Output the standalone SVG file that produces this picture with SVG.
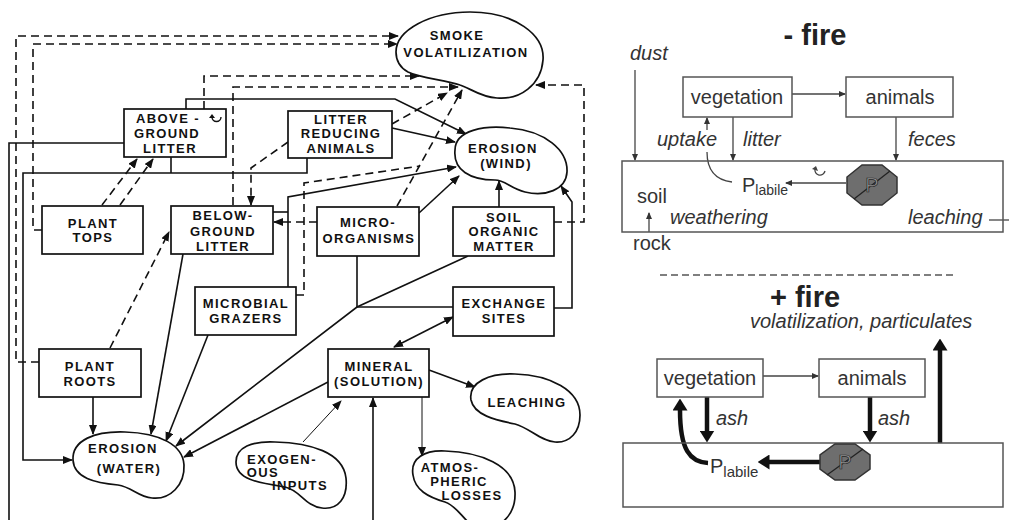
<svg xmlns="http://www.w3.org/2000/svg" width="1009" height="520" viewBox="0 0 1009 520">
<style>
.bx{fill:#fff;stroke:#111;stroke-width:1.7}
.bl{fill:#fff;stroke:#111;stroke-width:1.7}
.L{font-family:"Liberation Sans",Arial,sans-serif;font-weight:bold;font-size:13px;letter-spacing:1.4px;text-anchor:middle;fill:#111}
.sl{fill:none;stroke:#111;stroke-width:1.6}
.th{fill:none;stroke:#111;stroke-width:1}
.dl{fill:none;stroke:#111;stroke-width:1.6;stroke-dasharray:8 5}
.rb{fill:none;stroke:#555;stroke-width:1.5}
.R{font-family:"Liberation Sans",Arial,sans-serif;font-size:20px;fill:#333}
.I{font-style:italic}
.T{font-family:"Liberation Sans",Arial,sans-serif;font-size:29px;font-weight:bold;fill:#222;text-anchor:middle}
.rl{fill:none;stroke:#444;stroke-width:1.3}
.tk{fill:none;stroke:#111;stroke-width:4.5}
.oc{fill:#6e6e6e;stroke:#333;stroke-width:1.5}
.op{font-family:"Liberation Sans",Arial,sans-serif;font-size:20px;fill:#9a9a9a;stroke:#222;stroke-width:0.7;text-anchor:middle}
</style>
<defs>
<marker id="a" viewBox="0 0 10 8" refX="9" refY="4" markerWidth="10" markerHeight="8" markerUnits="userSpaceOnUse" orient="auto-start-reverse"><path d="M0,0 L10,4 L0,8 z" fill="#111"/></marker>
<marker id="s" viewBox="0 0 7 6" refX="6" refY="3" markerWidth="7" markerHeight="6" markerUnits="userSpaceOnUse" orient="auto"><path d="M0,0 L7,3 L0,6 z" fill="#333"/></marker>
<marker id="t" viewBox="0 0 12 15" refX="0.5" refY="7.5" markerWidth="12" markerHeight="15" markerUnits="userSpaceOnUse" orient="auto"><path d="M0,0 L12,7.5 L0,15 z" fill="#111"/></marker>
</defs>
<rect width="1009" height="520" fill="#fff"/>

<g id="connectors">
<path class="dl" d="M39 362 L16 362 L16 36 L398 36" marker-end="url(#a)"/>
<path class="dl" d="M42 230 L33 230 L33 44 L397 44" marker-end="url(#a)"/>
<path class="dl" d="M204 109 L204 76 L419 76" marker-end="url(#a)"/>
<path class="dl" d="M233 205 L233 87 L458 87" marker-end="url(#a)"/>
<path class="dl" d="M392 124 L447 93" marker-end="url(#a)"/>
<path class="dl" d="M397 206 L462 90" marker-end="url(#a)"/>
<path class="dl" d="M554 222 L584 222 L584 85 L536 85" marker-end="url(#a)"/>
<path class="dl" d="M317 222 L274 222" marker-end="url(#a)"/>
<path class="dl" d="M296 295 L304 295 L304 183 L420 166"/>
<path class="dl" d="M288 142 L251 168 L251 205" marker-end="url(#a)"/>
<path class="dl" d="M102 205 L137 159" marker-end="url(#a)"/>
<path class="dl" d="M120 205 L153 159" marker-end="url(#a)"/>
<path class="dl" d="M110 348 L169 232" marker-end="url(#a)"/>
<path class="sl" d="M124 143 L9 143 L9 520"/>
<path class="sl" d="M307 158 L307 173 L23 173 L23 460 L72 460" marker-end="url(#a)"/>
<path class="sl" d="M171 157 L171 173"/>
<path class="sl" d="M186 109 L186 99 L395 99 L466 134" marker-end="url(#a)"/>
<path class="sl" d="M392 128 L455 142" marker-end="url(#a)"/>
<path class="sl" d="M273 212 L288 212"/>
<path class="sl" d="M288 287 L288 197 L456 167" marker-end="url(#a)"/>
<path class="sl" d="M419 213 L459 176" marker-end="url(#a)"/>
<path class="sl" d="M499 207 L499 181" marker-end="url(#a)"/>
<path class="sl" d="M554 308 L572 308 L572 202 L561 186" marker-end="url(#a)"/>
<path class="sl" d="M357 256 L357 307 L453 307"/>
<path class="sl" d="M468 256 L357 307 L176 446" marker-end="url(#a)"/>
<path class="sl" d="M328 382 L184 457" marker-end="url(#a)"/>
<path class="sl" d="M183 254 L151 434" marker-end="url(#a)"/>
<path class="sl" d="M208 335 L166 441" marker-end="url(#a)"/>
<path class="sl" d="M93 397 L93 434" marker-end="url(#a)"/>
<path class="sl" d="M453 317 L394 347" marker-start="url(#a)" marker-end="url(#a)"/>
<path class="sl" d="M429 370 L475 387" marker-end="url(#a)"/>
<path class="th" d="M422 397 L422 456" marker-end="url(#a)"/>
<path class="th" d="M303 442 L341 401" marker-end="url(#a)"/>
<path class="sl" d="M373 520 L373 398" marker-end="url(#a)"/>

<path class="rl" d="M635 70 L635 160" marker-end="url(#s)"/>
<path class="rl" d="M792 94 L845 94" marker-end="url(#s)"/>
<path class="rl" d="M733 117 L733 160" marker-end="url(#s)"/>
<path class="rl" d="M896 117 L896 160" marker-end="url(#s)"/>
<path class="rl" d="M732 182 C715 180 707 170 707 152"/>
<path class="rl" d="M707 130 L707 118" marker-end="url(#s)"/>
<path class="rl" d="M846 183 L786 183" marker-end="url(#s)"/>
<path class="rl" d="M649 232 L649 213" marker-end="url(#s)"/>
<path class="rl" d="M989 220 L1009 220"/>
<path d="M660 275 L955 275" fill="none" stroke="#555" stroke-width="1.5" stroke-dasharray="7 4"/>
<path class="rl" d="M763 376 L818 376" marker-end="url(#s)"/>
<path class="tk" d="M940 443 L940 350" marker-end="url(#t)"/>
<path class="tk" d="M707 397 L707 431" marker-end="url(#t)"/>
<path class="tk" d="M870 397 L870 431" marker-end="url(#t)"/>
<path class="tk" d="M708 463 C690 462 680 450 680 410" marker-end="url(#t)"/>
<path class="tk" d="M820 462 L769 462" marker-end="url(#t)"/>
</g>

<g id="smoke-volatilization">
<path class="bl" d="M396 52 C396 30 430 12 470 12 C515 12 545 35 543 60 C541 85 520 100 497 98 C480 97 470 88 460 85 C445 80 420 78 408 72 C399 67 396 60 396 52 Z"/>
<text class="L" x="457" y="40">SMOKE</text>
<text class="L" x="466" y="57">VOLATILIZATION</text>
</g>
<g id="above-ground-litter">
<rect class="bx" x="124" y="109" width="102" height="48"/>
<text class="L" x="168" y="123">ABOVE -</text>
<path d="M212 117 A4.5 4.5 0 1 0 221 117" fill="none" stroke="#111" stroke-width="1.4"/>
<path d="M209 118 L212 114 L215 118 Z" fill="#111"/>
<text class="L" x="167" y="138">GROUND</text>
<text class="L" x="170" y="153">LITTER</text>
</g>
<g id="litter-reducing-animals">
<rect class="bx" x="288" y="111" width="104" height="47"/>
<text class="L" x="341" y="124">LITTER</text>
<text class="L" x="341" y="138">REDUCING</text>
<text class="L" x="341" y="153">ANIMALS</text>
</g>
<g id="erosion-wind">
<path class="bl" d="M455 150 C455 130 485 125 510 128 C545 131 568 150 567 172 C566 190 545 197 525 192 C510 188 505 180 495 180 C470 180 453 170 455 150 Z"/>
<text class="L" x="503" y="153">EROSION</text>
<text class="L" x="506" y="168">(WIND)</text>
</g>
<g id="plant-tops">
<rect class="bx" x="42" y="206" width="101" height="48"/>
<text class="L" x="93" y="228">PLANT</text>
<text class="L" x="93" y="242">TOPS</text>
</g>
<g id="below-ground-litter">
<rect class="bx" x="171" y="206" width="102" height="48"/>
<text class="L" x="223" y="220">BELOW-</text>
<text class="L" x="223" y="236">GROUND</text>
<text class="L" x="223" y="251">LITTER</text>
</g>
<g id="micro-organisms">
<rect class="bx" x="317" y="207" width="102" height="49"/>
<text class="L" x="368" y="227">MICRO-</text>
<text class="L" x="369" y="243">ORGANISMS</text>
</g>
<g id="soil-organic-matter">
<rect class="bx" x="453" y="207" width="101" height="49"/>
<text class="L" x="504" y="222">SOIL</text>
<text class="L" x="504" y="236">ORGANIC</text>
<text class="L" x="504" y="251">MATTER</text>
</g>
<g id="microbial-grazers">
<rect class="bx" x="195" y="287" width="101" height="48"/>
<text class="L" x="246" y="308">MICROBIAL</text>
<text class="L" x="246" y="323">GRAZERS</text>
</g>
<g id="exchange-sites">
<rect class="bx" x="453" y="287" width="101" height="49"/>
<text class="L" x="504" y="308">EXCHANGE</text>
<text class="L" x="504" y="323">SITES</text>
</g>
<g id="plant-roots">
<rect class="bx" x="39" y="349" width="102" height="48"/>
<text class="L" x="90" y="371">PLANT</text>
<text class="L" x="90" y="386">ROOTS</text>
</g>
<g id="mineral-solution">
<rect class="bx" x="328" y="349" width="101" height="48"/>
<text class="L" x="379" y="371">MINERAL</text>
<text class="L" x="379" y="386">(SOLUTION)</text>
</g>
<g id="erosion-water">
<path class="bl" d="M73 460 C72 440 95 431 125 432 C160 433 183 445 184 465 C185 485 170 500 152 498 C138 497 132 487 118 485 C95 483 74 478 73 460 Z"/>
<text class="L" x="123" y="453">EROSION</text>
<text class="L" x="129" y="473">(WATER)</text>
</g>
<g id="exogenous-inputs">
<path class="bl" d="M236 462 C236 447 252 441 275 442 C310 443 343 452 346 478 C348 498 338 510 322 508 C305 506 300 490 285 487 C260 483 236 480 236 462 Z"/>
<text class="L" x="282" y="464">EXOGEN-</text>
<text class="L" x="263" y="477">OUS</text>
<text class="L" x="300" y="490">INPUTS</text>
</g>
<g id="leaching">
<path class="bl" d="M471 400 C468 382 490 373 515 374 C550 375 580 390 580 415 C580 432 570 443 555 442 C540 441 530 428 515 424 C495 420 474 415 471 400 Z"/>
<text class="L" x="527" y="407">LEACHING</text>
</g>
<g id="atmospheric-losses">
<path class="bl" d="M413 475 C410 458 425 450 445 451 C480 452 514 465 515 492 C516 515 500 530 480 528 C465 526 460 507 445 502 C428 497 415 490 413 475 Z"/>
<text class="L" x="450" y="472">ATMOS-</text>
<text class="L" x="459" y="486">PHERIC</text>
<text class="L" x="472" y="500">LOSSES</text>
</g>

<g id="title-minus-fire"><text class="T" x="815" y="45">- fire</text></g>
<g id="dust-label"><text class="R I" x="630" y="60">dust</text></g>
<g id="soil-box-1">
<rect class="rb" x="622" y="161" width="381" height="71"/>
<text class="R" x="637" y="203">soil</text>
<text class="R I" x="670" y="224">weathering</text>
<text class="R I" x="908" y="224">leaching</text>
<text class="R" x="742" y="192">P<tspan font-size="14" dy="3">labile</tspan></text>
<path d="M815 169 A5 5 0 1 0 825 171" fill="none" stroke="#444" stroke-width="1.3"/>
<path d="M812 169 L816 166 L818 171 Z" fill="#444"/>
</g>
<g id="rock-label"><text class="R" x="633" y="250">rock</text></g>
<g id="vegetation-1">
<rect class="rb" x="683" y="77" width="109" height="40"/>
<text class="R" x="737" y="104" text-anchor="middle">vegetation</text>
</g>
<g id="animals-1">
<rect class="rb" x="846" y="77" width="107" height="40"/>
<text class="R" x="900" y="104" text-anchor="middle">animals</text>
</g>
<g id="flow-labels-1">
<text class="R I" x="657" y="146">uptake</text>
<text class="R I" x="743" y="146">litter</text>
<text class="R I" x="908" y="146">feces</text>
</g>
<g id="p-octagon-1">
<polygon class="oc" points="862,165 882,165 897,177 897,193 882,205 862,205 847,193 847,177"/>
<path d="M854 199 L890 171" stroke="#222" stroke-width="1.3"/>
<text class="op" x="872" y="192">P</text>
</g>

<g id="title-plus-fire"><text class="T" x="805" y="307">+ fire</text></g>
<g id="volatilization-label"><text class="R I" x="750" y="328">volatilization, particulates</text></g>
<g id="soil-box-2">
<rect class="rb" x="623" y="443" width="380" height="64"/>
<text class="R" x="710" y="473">P<tspan font-size="15" dy="4">labile</tspan></text>
</g>
<g id="vegetation-2">
<rect class="rb" x="657" y="359" width="106" height="38"/>
<text class="R" x="710" y="385" text-anchor="middle">vegetation</text>
</g>
<g id="animals-2">
<rect class="rb" x="819" y="359" width="106" height="38"/>
<text class="R" x="872" y="385" text-anchor="middle">animals</text>
</g>
<g id="ash-labels">
<text class="R I" x="716" y="425">ash</text>
<text class="R I" x="878" y="425">ash</text>
</g>
<g id="p-octagon-2">
<polygon class="oc" points="835,444 855,444 870,455 870,469 855,480 835,480 820,469 820,455"/>
<path d="M827 475 L863 449" stroke="#222" stroke-width="1.3"/>
<text class="op" x="845" y="469">P</text>
</g>
</svg>
